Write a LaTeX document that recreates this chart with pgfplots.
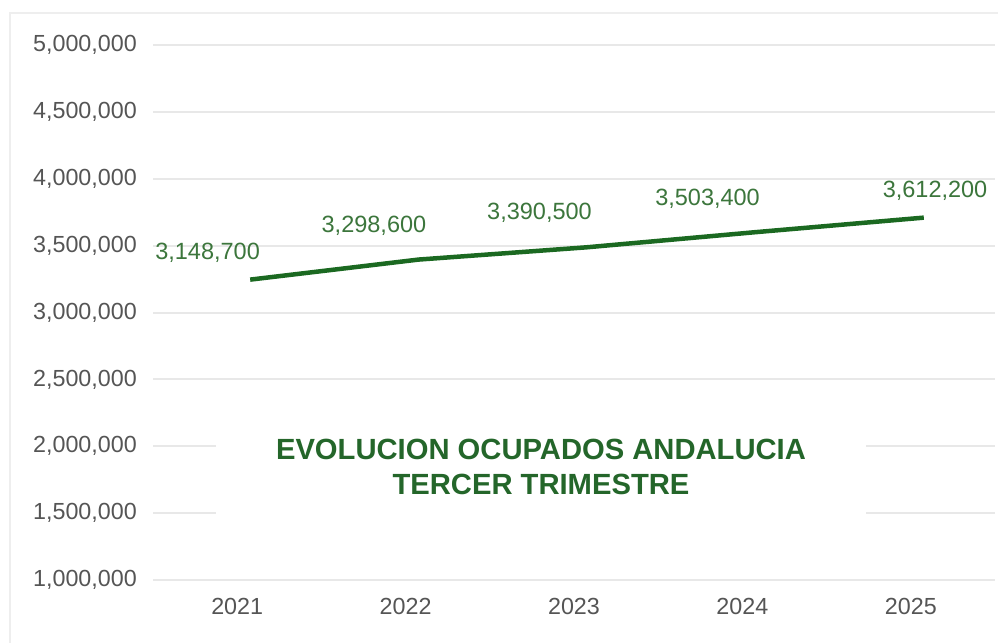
\documentclass[border=0pt]{standalone}
\usepackage{pgfplots}
\pgfplotsset{compat=1.18}
\usepackage{fontspec}
\setmainfont{Liberation Sans}
\definecolor{linegreen}{RGB}{27,105,33}
\definecolor{labgreen}{RGB}{60,118,60}
\definecolor{titlegreen}{RGB}{36,102,42}
\definecolor{tickgray}{RGB}{85,85,85}
\definecolor{gridgray}{RGB}{232,232,232}
\definecolor{framegray}{RGB}{238,238,238}
\begin{document}
\begin{tikzpicture}
\useasboundingbox (0pt,0pt) rectangle (998pt,-643pt);
\fill[white] (0pt,0pt) rectangle (998pt,-643pt);
\draw[framegray, line width=1.5pt] (10pt,-643pt) -- (10pt,-13pt) -- (998pt,-13pt);
\begin{axis}[
  scale only axis,
  width=842pt, height=535pt,
  at={(153pt,-580pt)}, anchor=south west,
  xmin=-0.5, xmax=4.5,
  ymin=1000000, ymax=5000000,
  ytick={1000000,1500000,2000000,2500000,3000000,3500000,4000000,4500000,5000000},
  xtick={0,1,2,3,4},
  xticklabels={2021,2022,2023,2024,2025},
  axis line style={draw=none},
  major tick length=0pt,
  ymajorgrids,
  grid style={gridgray, line width=2pt},
  scaled y ticks=false,
  /pgf/number format/assume math mode=true,
  yticklabel style={/pgf/number format/fixed, /pgf/number format/1000 sep={,},
    font=\fontsize{23.3}{27}\selectfont, text=tickgray, inner sep=0pt, anchor=east, xshift=-16pt},
  xticklabel style={font=\fontsize{23.3}{27}\selectfont, text=tickgray, inner sep=0pt, anchor=north, yshift=-18pt},
  clip=false,
]
\addplot[linegreen, line width=4.5pt, xshift=13pt, yshift=13pt] coordinates {
  (0,3148700) (1,3298600) (2,3390500) (3,3503400) (4,3612200)
};
\begin{scope}[every node/.style={font=\fontsize{23.5}{27}\selectfont, text=labgreen, inner sep=0pt}]
\node at (axis cs:-0.176,3445000) {3,148,700};
\node at (axis cs:0.812,3647000) {3,298,600};
\node at (axis cs:1.795,3744000) {3,390,500};
\node at (axis cs:2.793,3849000) {3,503,400};
\node at (axis cs:4.144,3908000) {3,612,200};
\end{scope}
\end{axis}
\node[fill=white, minimum width=650pt, minimum height=100pt, align=center,
  font=\fontsize{29.2}{35}\selectfont\bfseries, text=titlegreen] at (541pt,-467pt)
  {EVOLUCION OCUPADOS ANDALUCIA\\TERCER TRIMESTRE};
\end{tikzpicture}
\end{document}
